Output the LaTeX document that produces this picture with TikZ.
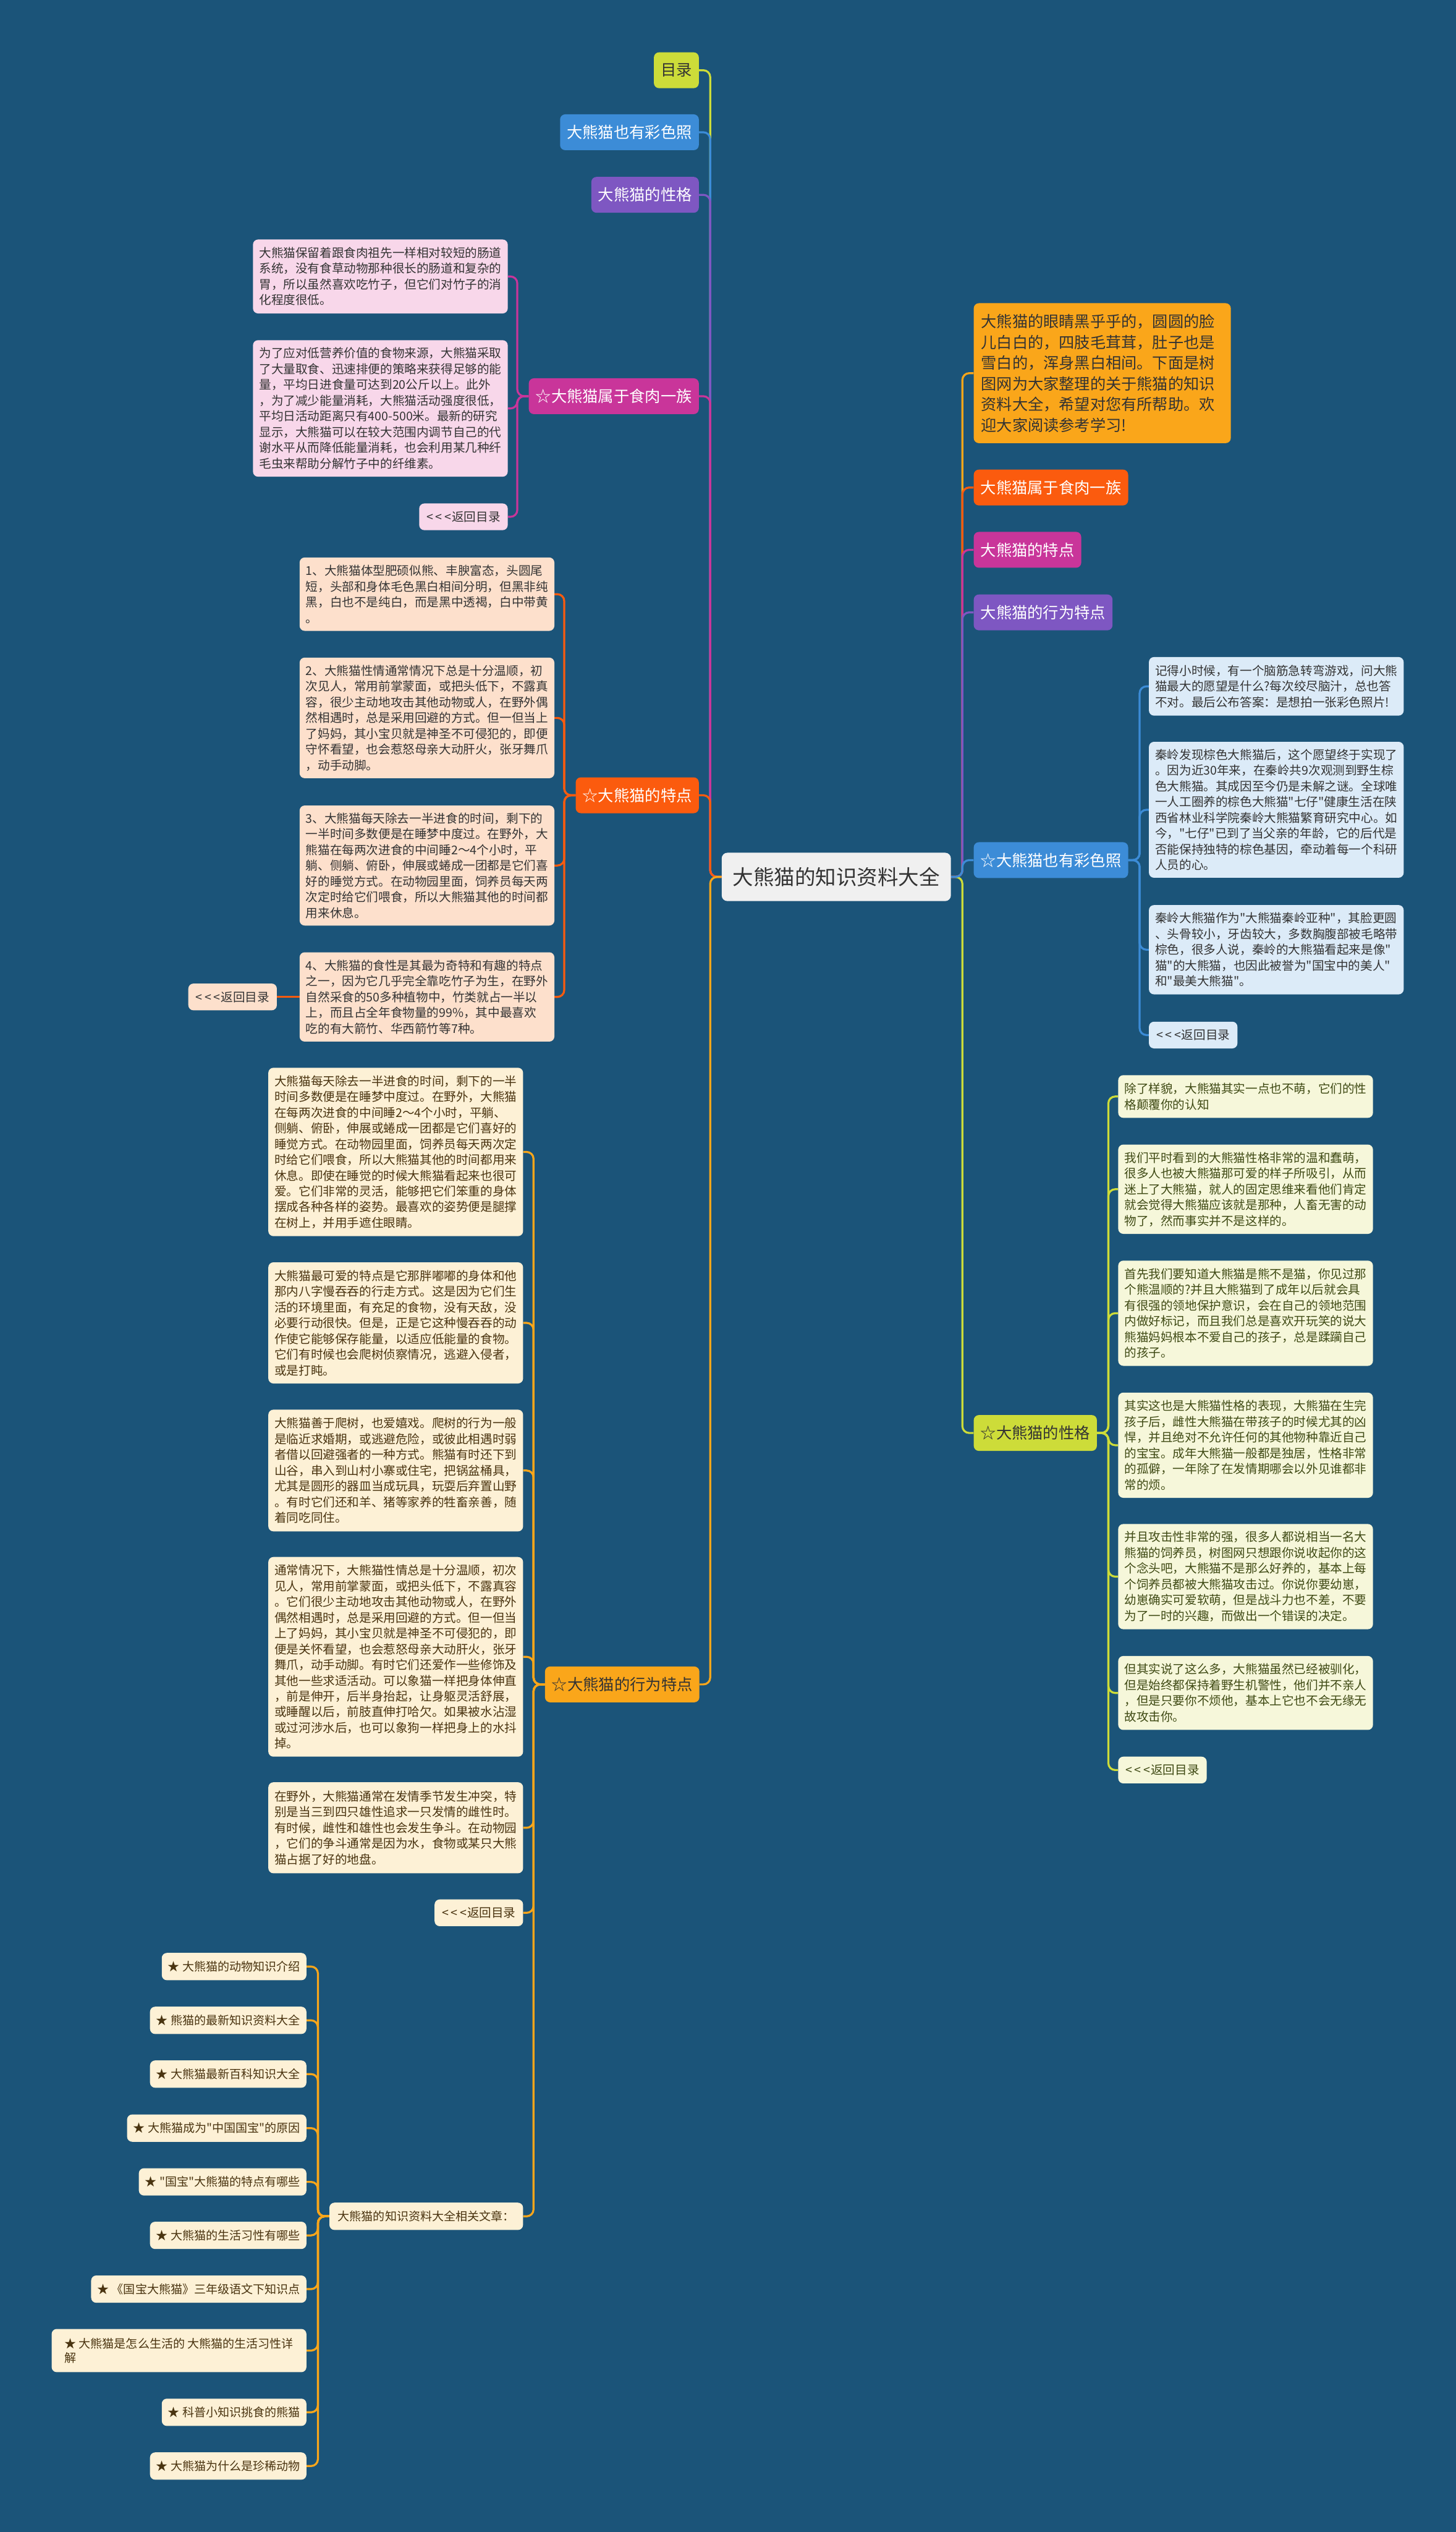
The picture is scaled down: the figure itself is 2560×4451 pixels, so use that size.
\documentclass[tikz,border=0pt]{standalone}
\usepackage{fontspec}
\newfontfamily\cjk{Noto Sans CJK SC}
\pgfdeclarelayer{bgl}
\pgfdeclarelayer{edges}
\pgfsetlayers{bgl,edges,main}
\definecolor{bgc}{HTML}{1B5479}
\definecolor{clime}{HTML}{CDDC39}
\definecolor{cblue}{HTML}{3C8CD7}
\definecolor{cpurple}{HTML}{7E57C2}
\definecolor{cmag}{HTML}{C9359A}
\definecolor{corange}{HTML}{FB5B0E}
\definecolor{cgold}{HTML}{FAA61A}
\definecolor{lpink}{HTML}{F8D7EA}
\definecolor{lorange}{HTML}{FDE0CC}
\definecolor{lgold}{HTML}{FDF1D6}
\definecolor{lblue}{HTML}{DCEBF8}
\definecolor{lgreen}{HTML}{F6F7DA}
\definecolor{lcenter}{HTML}{F0F0F0}
\definecolor{tdark}{HTML}{333333}
\definecolor{tbrown}{HTML}{4A3410}
\definecolor{tolive}{HTML}{3F4A14}
\newcommand\backtext{<\kern4pt<\kern4pt<\kern1pt返回目录}
\tikzset{
  title/.style={rounded corners=9pt, inner xsep=12pt, inner ysep=0pt, minimum height=63pt,
    font=\cjk\fontsize{27.5}{33}\selectfont, text=white},
  detail/.style={rounded corners=9pt, inner xsep=11pt, inner ysep=0pt, text width=426pt,
    align=left, font=\cjk\fontsize{21.3}{27.7}\selectfont},
  backbox/.style={rounded corners=9pt, inner xsep=13pt, inner ysep=0pt, minimum height=47pt,
    font=\cjk\fontsize{21.3}{27.7}\selectfont},
  itembox/.style={rounded corners=9pt, inner xsep=11pt, inner ysep=0pt, minimum height=48pt,
    font=\cjk\fontsize{20.7}{25}\selectfont, fill=lgold, text=tbrown, align=left},
  conn/.style={line width=3.5pt, rounded corners=12pt},
}
\begin{document}
\begin{tikzpicture}[x=1pt,y=-1pt]
\useasboundingbox (0,0) rectangle (2560,4451);
\begin{pgfonlayer}{bgl}
\fill[bgc] (0,0) rectangle (2560,4451);
\end{pgfonlayer}

% center
\node[rounded corners=10pt, fill=lcenter, text=tdark, inner xsep=19.5pt, inner ysep=0pt, minimum height=85pt,
  font=\cjk\fontsize{36.4}{40}\selectfont] (c) at (1470.5,1541.5) {大熊猫的知识资料大全};

% left first level
\node[title, fill=clime, text=tdark, anchor=east] (mulu) at (1229,123.5) {目录};
\node[title, fill=cblue, anchor=east] (Lcai) at (1229,232.5) {大熊猫也有彩色照};
\node[title, fill=cpurple, anchor=east] (Lxing) at (1229,342.5) {大熊猫的性格};
\node[title, fill=cmag, anchor=east] (Lshi) at (1229,696.5) {☆大熊猫属于食肉一族};
\node[title, fill=corange, anchor=east] (Ltd) at (1229,1398) {☆大熊猫的特点};
\node[title, fill=cgold, text=tdark, anchor=east] (Lxw) at (1230,2961) {☆大熊猫的行为特点};

% right first level
\node[rounded corners=9pt, fill=cgold, text=tdark, inner xsep=13pt, inner ysep=0pt, text width=426pt,
  align=left, minimum height=246pt, font=\cjk\fontsize{27.4}{36.4}\selectfont, anchor=west] (intro) at (1712,656)
  {大熊猫的眼睛黑乎乎的，圆圆的脸\\儿白白的，四肢毛茸茸，肚子也是\\雪白的，浑身黑白相间。下面是树\\图网为大家整理的关于熊猫的知识\\资料大全，希望对您有所帮助。欢\\迎大家阅读参考学习!};
\node[title, fill=corange, anchor=west] (Rshi) at (1712,857) {大熊猫属于食肉一族};
\node[title, fill=cmag, anchor=west] (Rtd) at (1712,966.5) {大熊猫的特点};
\node[title, fill=cpurple, anchor=west] (Rxw) at (1712,1076.5) {大熊猫的行为特点};
\node[title, fill=cblue, anchor=west] (Rcai) at (1712,1512) {☆大熊猫也有彩色照};
\node[title, fill=clime, text=tdark, anchor=west] (Rxing) at (1712,2519) {☆大熊猫的性格};

% pink children
\node[detail, fill=lpink, text=tdark, minimum height=130pt, anchor=east] (p1) at (893,486)
  {大熊猫保留着跟食肉祖先一样相对较短的肠道\\系统，没有食草动物那种很长的肠道和复杂的\\胃，所以虽然喜欢吃竹子，但它们对竹子的消\\化程度很低。};
\node[detail, fill=lpink, text=tdark, minimum height=240pt, anchor=east] (p2) at (893,718)
  {为了应对低营养价值的食物来源，大熊猫采取\\了大量取食、迅速排便的策略来获得足够的能\\量，平均日进食量可达到20公斤以上。此外\\，为了减少能量消耗，大熊猫活动强度很低，\\平均日活动距离只有400-500米。最新的研究\\显示，大熊猫可以在较大范围内调节自己的代\\谢水平从而降低能量消耗，也会利用某几种纤\\毛虫来帮助分解竹子中的纤维素。};
\node[backbox, fill=lpink, text=tdark, anchor=east] (pback) at (893,908.5) {\backtext};

% orange children
\node[detail, fill=lorange, text=tdark, minimum height=129pt, anchor=east] (o1) at (975,1044.5)
  {1、大熊猫体型肥硕似熊、丰腴富态，头圆尾\\短，头部和身体毛色黑白相间分明，但黑非纯\\黑，白也不是纯白，而是黑中透褐，白中带黄\\。};
\node[detail, fill=lorange, text=tdark, minimum height=212pt, anchor=east] (o2) at (975,1262)
  {2、大熊猫性情通常情况下总是十分温顺，初\\次见人，常用前掌蒙面，或把头低下，不露真\\容，很少主动地攻击其他动物或人，在野外偶\\然相遇时，总是采用回避的方式。但一但当上\\了妈妈，其小宝贝就是神圣不可侵犯的，即便\\守怀看望，也会惹怒母亲大动肝火，张牙舞爪\\，动手动脚。};
\node[detail, fill=lorange, text=tdark, minimum height=211pt, anchor=east] (o3) at (975,1521.5)
  {3、大熊猫每天除去一半进食的时间，剩下的\\一半时间多数便是在睡梦中度过。在野外，大\\熊猫在每两次进食的中间睡2～4个小时，平\\躺、侧躺、俯卧，伸展或蜷成一团都是它们喜\\好的睡觉方式。在动物园里面，饲养员每天两\\次定时给它们喂食，所以大熊猫其他的时间都\\用来休息。};
\node[detail, fill=lorange, text=tdark, minimum height=157pt, anchor=east] (o4) at (975,1752.5)
  {4、大熊猫的食性是其最为奇特和有趣的特点\\之一，因为它几乎完全靠吃竹子为生，在野外\\自然采食的50多种植物中，竹类就占一半以\\上，而且占全年食物量的99\%，其中最喜欢\\吃的有大箭竹、华西箭竹等7种。};
\node[backbox, fill=lorange, text=tdark, anchor=east] (oback) at (487,1752.5) {\backtext};

% gold children
\node[detail, fill=lgold, text=tbrown, minimum height=296pt, anchor=east] (g1) at (920,2025)
  {大熊猫每天除去一半进食的时间，剩下的一半\\时间多数便是在睡梦中度过。在野外，大熊猫\\在每两次进食的中间睡2～4个小时，平躺、\\侧躺、俯卧，伸展或蜷成一团都是它们喜好的\\睡觉方式。在动物园里面，饲养员每天两次定\\时给它们喂食，所以大熊猫其他的时间都用来\\休息。即使在睡觉的时候大熊猫看起来也很可\\爱。它们非常的灵活，能够把它们笨重的身体\\摆成各种各样的姿势。最喜欢的姿势便是腿撑\\在树上，并用手遮住眼睛。};
\node[detail, fill=lgold, text=tbrown, minimum height=213pt, anchor=east] (g2) at (920,2325.5)
  {大熊猫最可爱的特点是它那胖嘟嘟的身体和他\\那内八字慢吞吞的行走方式。这是因为它们生\\活的环境里面，有充足的食物，没有天敌，没\\必要行动很快。但是，正是它这种慢吞吞的动\\作使它能够保存能量，以适应低能量的食物。\\它们有时候也会爬树侦察情况，逃避入侵者，\\或是打盹。};
\node[detail, fill=lgold, text=tbrown, minimum height=214pt, anchor=east] (g3) at (920,2585)
  {大熊猫善于爬树，也爱嬉戏。爬树的行为一般\\是临近求婚期，或逃避危险，或彼此相遇时弱\\者借以回避强者的一种方式。熊猫有时还下到\\山谷，串入到山村小寨或住宅，把锅盆桶具，\\尤其是圆形的器皿当成玩具，玩耍后弃置山野\\。有时它们还和羊、猪等家养的牲畜亲善，随\\着同吃同住。};
\node[detail, fill=lgold, text=tbrown, minimum height=351pt, anchor=east] (g4) at (920,2912.5)
  {通常情况下，大熊猫性情总是十分温顺，初次\\见人，常用前掌蒙面，或把头低下，不露真容\\。它们很少主动地攻击其他动物或人，在野外\\偶然相遇时，总是采用回避的方式。但一但当\\上了妈妈，其小宝贝就是神圣不可侵犯的，即\\便是关怀看望，也会惹怒母亲大动肝火，张牙\\舞爪，动手动脚。有时它们还爱作一些修饰及\\其他一些求适活动。可以象猫一样把身体伸直\\，前是伸开，后半身抬起，让身躯灵活舒展，\\或睡醒以后，前肢直伸打哈欠。如果被水沾湿\\或过河涉水后，也可以象狗一样把身上的水抖\\掉。};
\node[detail, fill=lgold, text=tbrown, minimum height=160pt, anchor=east] (g5) at (920,3213)
  {在野外，大熊猫通常在发情季节发生冲突，特\\别是当三到四只雄性追求一只发情的雌性时。\\有时候，雌性和雄性也会发生争斗。在动物园\\，它们的争斗通常是因为水，食物或某只大熊\\猫占据了好的地盘。};
\node[backbox, fill=lgold, text=tbrown, anchor=east] (gback) at (920,3362.5) {\backtext};
\node[itembox, inner xsep=15pt, anchor=west] (rel) at (579,3896) {大熊猫的知识资料大全相关文章：};

% related items
\node[itembox, anchor=east] (r1) at (539,3457) {★ 大熊猫的动物知识介绍};
\node[itembox, anchor=east] (r2) at (539,3551.5) {★ 熊猫的最新知识资料大全};
\node[itembox, anchor=east] (r3) at (539,3646) {★ 大熊猫最新百科知识大全};
\node[itembox, anchor=east] (r4) at (539,3741) {★ 大熊猫成为"中国国宝"的原因};
\node[itembox, anchor=east] (r5) at (539,3835.5) {★ "国宝"大熊猫的特点有哪些};
\node[itembox, anchor=east] (r6) at (539,3929.5) {★ 大熊猫的生活习性有哪些};
\node[itembox, anchor=east] (r7) at (539,4024) {★ 《国宝大熊猫》三年级语文下知识点};
\node[itembox, anchor=east, minimum height=76pt, minimum width=448pt] (r8) at (539,4132) {★ 大熊猫是怎么生活的 大熊猫的生活习性详\\解};
\node[itembox, anchor=east] (r9) at (539,4240.5) {★ 科普小知识挑食的熊猫};
\node[itembox, anchor=east] (r10) at (539,4335) {★ 大熊猫为什么是珍稀动物};

% blue children
\node[detail, fill=lblue, text=tdark, minimum height=103pt, anchor=west] (b1) at (2020,1206.5)
  {记得小时候，有一个脑筋急转弯游戏，问大熊\\猫最大的愿望是什么?每次绞尽脑汁，总也答\\不对。最后公布答案：是想拍一张彩色照片!};
\node[detail, fill=lblue, text=tdark, minimum height=239pt, anchor=west] (b2) at (2020,1423.5)
  {秦岭发现棕色大熊猫后，这个愿望终于实现了\\。因为近30年来，在秦岭共9次观测到野生棕\\色大熊猫。其成因至今仍是未解之谜。全球唯\\一人工圈养的棕色大熊猫"七仔"健康生活在陕\\西省林业科学院秦岭大熊猫繁育研究中心。如\\今，"七仔"已到了当父亲的年龄，它的后代是\\否能保持独特的棕色基因，牵动着每一个科研\\人员的心。};
\node[detail, fill=lblue, text=tdark, minimum height=157pt, anchor=west] (b3) at (2020,1669.5)
  {秦岭大熊猫作为"大熊猫秦岭亚种"，其脸更圆\\、头骨较小，牙齿较大，多数胸腹部被毛略带\\棕色，很多人说，秦岭的大熊猫看起来是像"\\猫"的大熊猫，也因此被誉为"国宝中的美人"\\和"最美大熊猫"。};
\node[backbox, fill=lblue, text=tdark, anchor=west] (bback) at (2020,1819.5) {\backtext};

% green children
\node[detail, fill=lgreen, text=tolive, minimum height=75pt, anchor=west] (y1) at (1966,1927.5)
  {除了样貌，大熊猫其实一点也不萌，它们的性\\格颠覆你的认知};
\node[detail, fill=lgreen, text=tolive, minimum height=157pt, anchor=west] (y2) at (1966,2090.5)
  {我们平时看到的大熊猫性格非常的温和蠢萌，\\很多人也被大熊猫那可爱的样子所吸引，从而\\迷上了大熊猫，就人的固定思维来看他们肯定\\就会觉得大熊猫应该就是那种，人畜无害的动\\物了，然而事实并不是这样的。};
\node[detail, fill=lgreen, text=tolive, minimum height=185pt, anchor=west] (y3) at (1966,2308.5)
  {首先我们要知道大熊猫是熊不是猫，你见过那\\个熊温顺的?并且大熊猫到了成年以后就会具\\有很强的领地保护意识，会在自己的领地范围\\内做好标记，而且我们总是喜欢开玩笑的说大\\熊猫妈妈根本不爱自己的孩子，总是蹂躏自己\\的孩子。};
\node[detail, fill=lgreen, text=tolive, minimum height=185pt, anchor=west] (y4) at (1966,2540.5)
  {其实这也是大熊猫性格的表现，大熊猫在生完\\孩子后，雌性大熊猫在带孩子的时候尤其的凶\\悍，并且绝对不允许任何的其他物种靠近自己\\的宝宝。成年大熊猫一般都是独居，性格非常\\的孤僻，一年除了在发情期哪会以外见谁都非\\常的烦。};
\node[detail, fill=lgreen, text=tolive, minimum height=185pt, anchor=west] (y5) at (1966,2771.5)
  {并且攻击性非常的强，很多人都说相当一名大\\熊猫的饲养员，树图网只想跟你说收起你的这\\个念头吧，大熊猫不是那么好养的，基本上每\\个饲养员都被大熊猫攻击过。你说你要幼崽，\\幼崽确实可爱软萌，但是战斗力也不差，不要\\为了一时的兴趣，而做出一个错误的决定。};
\node[detail, fill=lgreen, text=tolive, minimum height=130pt, anchor=west] (y6) at (1966,2976)
  {但其实说了这么多，大熊猫虽然已经被驯化，\\但是始终都保持着野生机警性，他们并不亲人\\，但是只要你不烦他，基本上它也不会无缘无\\故攻击你。};
\node[backbox, fill=lgreen, text=tolive, anchor=west] (yback) at (1966,3111.5) {\backtext};

\begin{pgfonlayer}{edges}
% center to left
\draw[conn, clime] (c.west) -- ++(-20,0) |- (mulu.east);
\draw[conn, cblue] (c.west) -- ++(-20,0) |- (Lcai.east);
\draw[conn, cpurple] (c.west) -- ++(-20,0) |- (Lxing.east);
\draw[conn, cmag] (c.west) -- ++(-20,0) |- (Lshi.east);
\draw[conn, corange] (c.west) -- ++(-20,0) |- (Ltd.east);
\draw[conn, cgold] (c.west) -- ++(-20,0) |- (Lxw.east);
% center to right
\draw[conn, cgold] (c.east) -- ++(20,0) |- (intro.west);
\draw[conn, corange] (c.east) -- ++(20,0) |- (Rshi.west);
\draw[conn, cmag] (c.east) -- ++(20,0) |- (Rtd.west);
\draw[conn, cpurple] (c.east) -- ++(20,0) |- (Rxw.west);
\draw[conn, clime] (c.east) -- ++(20,0) |- (Rxing.west);
\draw[conn, cblue] (c.east) -- ++(20,0) |- (Rcai.west);
% pink
\foreach \n in {pback,p2,p1} \draw[conn, cmag] (Lshi.west) -- ++(-20,0) |- (\n.east);
% orange
\foreach \n in {o1,o2,o3,o4} \draw[conn, corange] (Ltd.west) -- ++(-20,0) |- (\n.east);
\draw[conn, corange] (o4.west) -- (oback.east);
% gold
\foreach \n in {rel,gback,g5,g4,g1,g2,g3} \draw[conn, cgold] (Lxw.west) -- ++(-20,0) |- (\n.east);
\foreach \n in {r1,r2,r3,r4,r5,r6,r7,r8,r9,r10} \draw[conn, cgold] (rel.west) -- ++(-20,0) |- (\n.east);
% blue
\foreach \n in {bback,b1,b3,b2} \draw[conn, cblue] (Rcai.east) -- ++(20,0) |- (\n.west);
% green
\foreach \n in {yback,y1,y6,y2,y5,y3,y4} \draw[conn, clime] (Rxing.east) -- ++(20,0) |- (\n.west);
\end{pgfonlayer}
\end{tikzpicture}
\end{document}
